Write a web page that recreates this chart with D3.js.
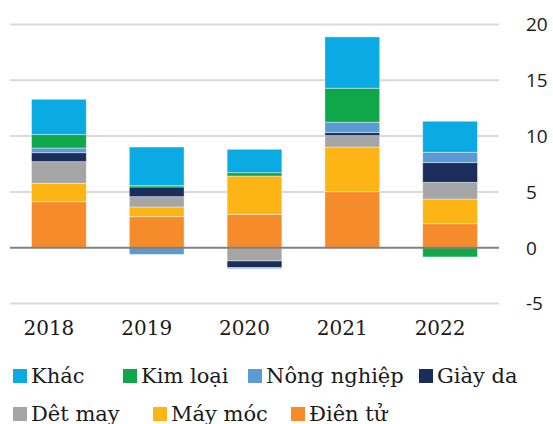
<!DOCTYPE html>
<html>
<head>
<meta charset="utf-8">
<script src="https://cdn.jsdelivr.net/npm/d3@7"></script>
<style>
  body { margin: 0; background: #fff; }
  text { font-family: "DejaVu Serif", serif; fill: #1a1a1a; }
</style>
</head>
<body>
<div id="chart"></div>
<script>
// data
var years = ["2018", "2019", "2020", "2021", "2022"];
var seriesNames = ["Điên tử", "Máy móc", "Dêt may", "Giày da", "Nông nghiệp", "Kim loại", "Khác"];
var dienTu     = [4.12, 2.78, 2.99, 5.02, 2.15];
var mayMoc     = [1.65, 0.87, 3.43, 4.00, 2.21];
var detMay     = [1.94, 0.92, -1.19, 1.02, 1.50];
var giayDa     = [0.80, 0.87, -0.60, 0.27, 1.76];
var nongNghiep = [0.42, -0.60, -0.09, 0.94, 0.93];
var kimLoai    = [1.20, 0.12, 0.30, 3.04, -0.83];
var khac       = [3.17, 3.46, 2.10, 4.60, 2.78];
var yTicks = [-5, 0, 5, 10, 15, 20];
var legendRows = [["Khác", "Kim loại", "Nông nghiệp", "Giày da"], ["Dêt may", "Máy móc", "Điên tử"]];

var colors = {
    "Khác": "#0aabe3",
    "Kim loại": "#0ea84a",
    "Nông nghiệp": "#5b9bd5",
    "Giày da": "#1b2d5a",
    "Dêt may": "#a5a5a5",
    "Máy móc": "#fdb515",
    "Điên tử": "#f68b2c"
};

var allSeries = [dienTu, mayMoc, detMay, giayDa, nongNghiep, kimLoai, khac];
var rows = years.map(function (y, i) {
    var r = {year: y};
    seriesNames.forEach(function (n, k) { r[n] = allSeries[k][i]; });
    return r;
});

var width = 553, height = 424;

var svg = d3.select("#chart")
    .append("svg")
    .attr("width", width)
    .attr("height", height);

var x = d3.scaleBand()
    .domain(years)
    .range([10, 499])
    .paddingInner(0.44)
    .paddingOuter(0.22);

var y = d3.scaleLinear()
    .domain([-5, 20])
    .range([303.5, 24.5]);

// gridlines
svg.append("g")
    .selectAll("line")
    .data(yTicks.filter(d => d !== 0))
    .enter()
    .append("line")
    .attr("x1", 10)
    .attr("x2", 499)
    .attr("y1", d => y(d))
    .attr("y2", d => y(d))
    .style("stroke", "#d9d9d9")
    .style("stroke-width", 2);

// y labels on the right
svg.append("g")
    .selectAll("text")
    .data(yTicks)
    .enter()
    .append("text")
    .attr("x", 526)
    .attr("y", d => y(d))
    .attr("dy", "0.36em")
    .style("font-family", "'Open Sans', sans-serif")
    .style("font-size", "19px")
    .text(d => d);

var stack = d3.stack()
    .keys(seriesNames)
    .offset(d3.stackOffsetDiverging);

var layers = stack(rows);

svg.append("g")
    .selectAll("g")
    .data(layers)
    .enter()
    .append("g")
    .style("fill", d => colors[d.key])
    .selectAll("rect")
    .data(d => d)
    .enter()
    .append("rect")
    .attr("x", d => x(d.data.year))
    .attr("width", x.bandwidth())
    .attr("y", d => y(Math.max(d[0], d[1])))
    .attr("height", d => Math.abs(y(d[0]) - y(d[1])))
    .style("stroke", "#ffffff")
    .style("stroke-opacity", 0.5)
    .style("stroke-width", 0.8);

// zero line
svg.append("line")
    .attr("x1", 10)
    .attr("x2", 499)
    .attr("y1", y(0))
    .attr("y2", y(0))
    .style("stroke", "#808080")
    .style("stroke-width", 2);

// x labels (sit a little left of the bar centres, as in the original)
svg.append("g")
    .selectAll("text")
    .data(years)
    .enter()
    .append("text")
    .attr("x", d => x(d) + x.bandwidth() / 2 - 10)
    .attr("y", 335)
    .attr("text-anchor", "middle")
    .style("font-size", "20px")
    .text(d => d);

// legend
var legendX = [[13, 123, 248, 419], [13, 153, 291]];
var legendY = [383, 421];
legendRows.forEach(function (row, r) {
    var item = svg.append("g")
        .selectAll("g")
        .data(row)
        .enter()
        .append("g")
        .attr("transform", (d, i) => "translate(" + legendX[r][i] + "," + legendY[r] + ")");
    item.append("rect")
        .attr("x", 0)
        .attr("y", -14)
        .attr("width", 14)
        .attr("height", 14)
        .style("fill", d => colors[d]);
    item.append("text")
        .attr("x", 18)
        .attr("y", 0)
        .style("font-size", "21px")
        .text(d => d);
});
</script>
</body>
</html>
